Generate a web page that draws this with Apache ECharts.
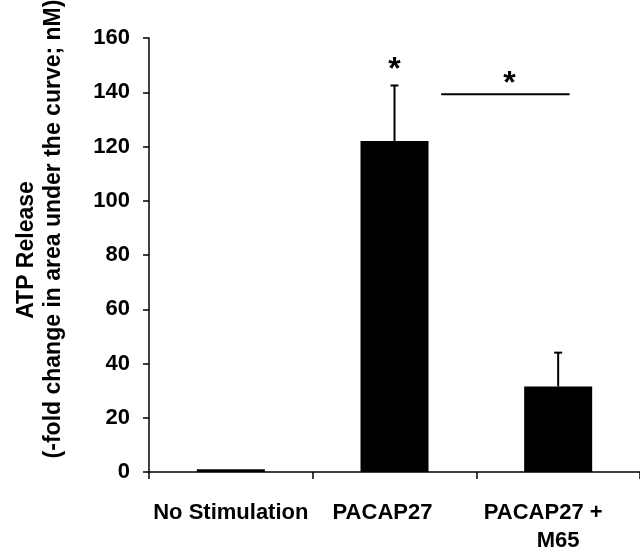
<!DOCTYPE html>
<html>
<head>
<meta charset="utf-8">
<script src="https://cdn.jsdelivr.net/npm/echarts@6/dist/echarts.min.js"></script>
<style>
html,body{margin:0;padding:0;background:#fff;}
#chart{width:640px;height:555px;}
</style>
</head>
<body>
<div id="chart"></div>
<script>
// ---- data ----
const categories = ['No Stimulation', 'PACAP27', 'PACAP27 +\nM65'];
const meanValues = [1, 122, 31.5];
const errorValues = [0, 20.5, 12.5];
const yTicks = { min: 0, max: 160, interval: 20 };
const yTitleLine1 = 'ATP Release';
const yTitleLine2 = '(-fold change in area under the curve; nM)';
const starMarks = [[1, 150.8, '*']];           // star above PACAP27 bar
const sigBrackets = [[1, 2, 139.3, '*']];      // PACAP27 vs PACAP27 + M65

const FONT = '"Liberation Sans", Arial, sans-serif';
const chart = echarts.init(document.getElementById('chart'), null, { renderer: 'canvas' });

const errorData = meanValues.map((m, i) => [i, m, m + errorValues[i]]);
const lbl = (extra) => Object.assign({ fontFamily: FONT, fontSize: 22, fontWeight: 'bold', color: '#000', lineHeight: 28, align: 'center' }, extra || {});

const option = {
  animation: false,
  backgroundColor: '#fff',
  grid: { left: 149, right: -6, top: 38, bottom: 81, containLabel: false },
  graphic: [
    { type: 'text', x: 27, y: 250, rotation: Math.PI / 2, style: { text: yTitleLine1, align: 'center', verticalAlign: 'middle', fontFamily: FONT, fontSize: 23, fontWeight: 'bold', fill: '#000' } },
    { type: 'text', x: 54, y: 229, rotation: Math.PI / 2, style: { text: yTitleLine2, align: 'center', verticalAlign: 'middle', fontFamily: FONT, fontSize: 23, fontWeight: 'bold', fill: '#000' } }
  ],
  xAxis: {
    type: 'category',
    data: categories,
    boundaryGap: true,
    axisLine: { show: true, lineStyle: { color: '#000', width: 1.5 } },
    axisTick: { show: true, length: 7, inside: false, alignWithLabel: false, lineStyle: { color: '#000', width: 1.5 } },
    axisLabel: {
      interval: 0,
      margin: 27,
      color: '#000',
      fontFamily: FONT,
      fontSize: 22,
      fontWeight: 'bold',
      lineHeight: 28,
      formatter: function (v, i) {
        if (i === 1) return '{p|' + v + '}';
        if (i === 2) { const parts = v.split('\n'); return '{q|' + parts[0] + '}\n{r|' + parts[1] + '}'; }
        return '{n|' + v + '}';
      },
      rich: {
        n: lbl(),
        p: lbl({ padding: [0, 24, 0, 0] }),
        q: lbl({ padding: [0, 30, 0, 0] }),
        r: lbl()
      }
    },
    splitLine: { show: false }
  },
  yAxis: {
    type: 'value',
    min: yTicks.min,
    max: yTicks.max,
    interval: yTicks.interval,
    axisLine: { show: true, lineStyle: { color: '#000', width: 1.5 } },
    axisTick: { show: true, length: 6, inside: false, lineStyle: { color: '#000', width: 1.5 } },
    axisLabel: { color: '#000', fontFamily: FONT, fontSize: 22, fontWeight: 'bold', margin: 19 },
    splitLine: { show: false }
  },
  series: [
    {
      type: 'bar',
      data: meanValues,
      barWidth: 68,
      itemStyle: { color: '#000' },
      z: 2
    },
    {
      type: 'custom',
      data: errorData,
      z: 3,
      renderItem: function (params, api) {
        const i = api.value(0);
        const top = api.coord([i, api.value(2)]);
        const base = api.coord([i, api.value(1)]);
        if (Math.abs(base[1] - top[1]) < 0.5) return { type: 'group', children: [] };
        return {
          type: 'group',
          children: [
            { type: 'line', shape: { x1: top[0], y1: base[1], x2: top[0], y2: top[1] }, style: { stroke: '#000', lineWidth: 2 } },
            { type: 'line', shape: { x1: top[0] - 4, y1: top[1], x2: top[0] + 4, y2: top[1] }, style: { stroke: '#000', lineWidth: 2 } }
          ]
        };
      }
    },
    {
      type: 'custom',
      data: starMarks,
      z: 4,
      renderItem: function (params, api) {
        const p = api.coord([api.value(0), api.value(1)]);
        return {
          type: 'text',
          style: { text: starMarks[params.dataIndex][2], x: p[0], y: p[1] + 7, align: 'center', verticalAlign: 'middle', fontFamily: FONT, fontSize: 32, fontWeight: 'bold', fill: '#000' }
        };
      }
    },
    {
      type: 'custom',
      data: sigBrackets,
      z: 4,
      renderItem: function (params, api) {
        const a = api.coord([api.value(0), api.value(2)]);
        const b = api.coord([api.value(1), api.value(2)]);
        const band = api.size([1, 0])[0];
        const x1 = a[0] + 0.285 * band;
        const x2 = b[0] + 0.07 * band;
        const mid = (x1 + x2) / 2;
        return {
          type: 'group',
          children: [
            { type: 'line', shape: { x1: x1, y1: a[1], x2: x2, y2: a[1] }, style: { stroke: '#000', lineWidth: 2 } },
            { type: 'text', style: { text: sigBrackets[params.dataIndex][3], x: mid + 4, y: a[1] - 17 + 7, align: 'center', verticalAlign: 'middle', fontFamily: FONT, fontSize: 32, fontWeight: 'bold', fill: '#000' } }
          ]
        };
      }
    }
  ]
};
chart.setOption(option);
</script>
</body>
</html>
